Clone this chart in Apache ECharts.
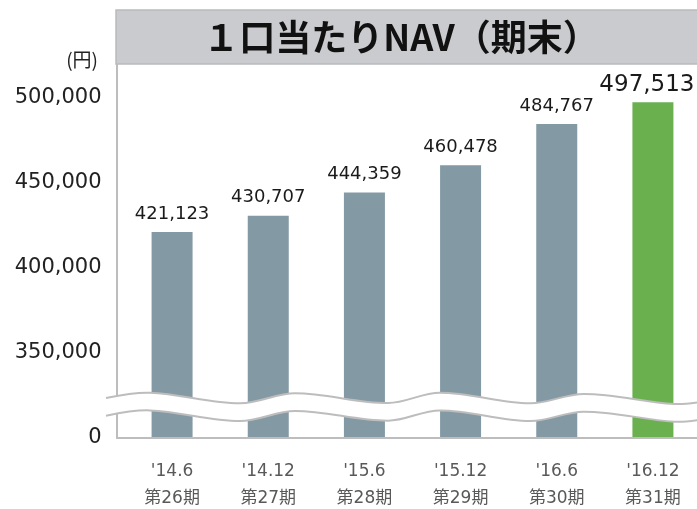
<!DOCTYPE html>
<html>
<head>
<meta charset="utf-8">
<script src="https://cdn.jsdelivr.net/npm/echarts@6/dist/echarts.min.js"></script>
<style>
  html, body { margin: 0; padding: 0; background: #fff; }
  #chart { width: 697px; height: 509px; }
</style>
</head>
<body>
<div id="chart"></div>
<script>
// 期末 / 期
var periods = ["'14.6", "'14.12", "'15.6", "'15.12", "'16.6", "'16.12"];
var terms = ['第26期', '第27期', '第28期', '第29期', '第30期', '第31期'];
// 1口当たりNAV (円)
var navValues = [421123, 430707, 444359, 460478, 484767, 497513];
// 縦軸: 300,000 を "0" として表示 (省略軸)
var yTickValues = [300000, 350000, 400000, 450000, 500000];
var yTickLabels = ['0', '350,000', '400,000', '450,000', '500,000'];

var numFont = '"DejaVu Sans", "Noto Sans CJK JP", sans-serif';
var jpFont = '"Noto Sans CJK JP", "DejaVu Sans", sans-serif';

var barGray = '#8399a4';
var barGreen = '#6ab04f';
var lineGray = '#bdbdbd';

// 波線 (軸の省略記号) の上側の線
var waveTop = [[106, 398], [150, 392.7], [240, 403.3], [295, 393.3], [388, 403],
               [440, 392.7], [530, 403.3], [584, 394], [674, 404], [700, 402]];
var waveGap = 17.7;
function shiftWave(dy) {
  return waveTop.map(function (p) { return [p[0], p[1] + dy]; });
}

var seriesData = navValues.map(function (v, i) {
  var last = i === navValues.length - 1;
  return {
    value: v,
    itemStyle: { color: last ? barGreen : barGray },
    label: last ? { fontSize: 23, distance: 6, offset: [-6, 0] } : {}
  };
});

var myChart = echarts.init(document.getElementById('chart'), null, { renderer: 'canvas' });

myChart.setOption({
  animation: false,
  grid: { left: 124, right: -4, top: 64, bottom: 71, containLabel: false, outerBoundsMode: 'none' },
  xAxis: {
    type: 'category',
    data: periods.map(function (p, i) { return p + '\n' + terms[i]; }),
    axisLine: { show: false },
    axisTick: { show: false },
    axisLabel: {
      interval: 0,
      margin: 20,
      color: '#595959',
      fontSize: 17,
      lineHeight: 27,
      fontFamily: numFont
    }
  },
  yAxis: {
    type: 'value',
    min: 300000,
    max: 520000,
    interval: 50000,
    offset: 7.5,
    splitLine: { show: false },
    axisTick: { show: false },
    axisLine: { show: true, lineStyle: { color: lineGray, width: 2 } },
    axisLabel: {
      margin: 15,
      color: '#222',
      fontSize: 21,
      fontFamily: numFont,
      showMaxLabel: false,
      formatter: function (v) {
        var k = yTickValues.indexOf(v);
        return k >= 0 ? yTickLabels[k] : '';
      }
    }
  },
  series: [{
    type: 'bar',
    barWidth: 41,
    data: seriesData,
    label: {
      show: true,
      position: 'top',
      distance: 9,
      color: '#1a1a1a',
      fontSize: 18,
      fontFamily: numFont,
      formatter: function (p) { return p.value.toLocaleString('en-US'); }
    }
  }],
  graphic: [
    // タイトル
    {
      type: 'rect', z: 10,
      shape: { x: 116, y: 10, width: 590, height: 54 },
      style: { fill: '#c9cbce', stroke: '#b9bbbd', lineWidth: 1.5 }
    },
    {
      type: 'text', z: 11, x: 401, y: 37,
      style: {
        text: '１口当たりNAV（期末）',
        fill: '#111', font: 'bold 36px ' + jpFont,
        align: 'center', verticalAlign: 'middle'
      }
    },
    {
      type: 'text', z: 11, x: 98, y: 60,
      style: {
        text: '(円)', fill: '#222', font: '19px ' + jpFont,
        align: 'right', verticalAlign: 'middle'
      }
    },
    // 横軸の線
    {
      type: 'line', z: 5,
      shape: { x1: 116.5, y1: 438, x2: 697, y2: 438 },
      style: { stroke: lineGray, lineWidth: 2 }
    },
    // 波線
    {
      type: 'polyline', z: 20,
      shape: { points: shiftWave(waveGap / 2), smooth: 0.35 },
      style: { stroke: '#fff', lineWidth: waveGap, fill: null }
    },
    {
      type: 'polyline', z: 21,
      shape: { points: shiftWave(0), smooth: 0.35 },
      style: { stroke: lineGray, lineWidth: 2, fill: null }
    },
    {
      type: 'polyline', z: 21,
      shape: { points: shiftWave(waveGap), smooth: 0.35 },
      style: { stroke: lineGray, lineWidth: 2, fill: null }
    }
  ]
});

window.onresize = myChart.resize;
</script>
</body>
</html>
